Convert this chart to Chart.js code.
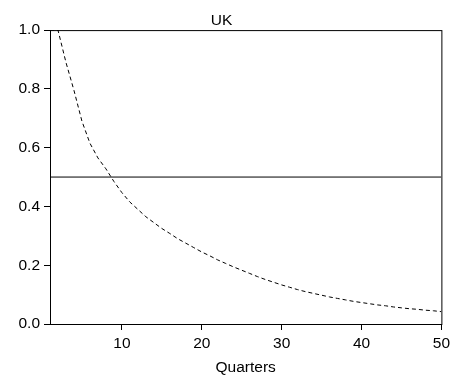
<!DOCTYPE html>
<html>
<head>
<meta charset="utf-8">
<script src="https://cdn.jsdelivr.net/npm/chart.js@4/dist/chart.umd.min.js"></script>
<style>
  html, body { margin: 0; padding: 0; background: #fff; }
  #wrap { width: 454px; height: 385px; }
</style>
</head>
<body>
<div id="wrap"><canvas id="chart" width="454" height="385"></canvas></div>
<script>
// Response profile for the UK, quarters 1..50
const quarters = [];
for (let q = 1; q <= 50; q++) quarters.push(q);

const response = [
  1.000, 1.000, 0.890, 0.795, 0.690, 0.615, 0.565, 0.528, 0.485, 0.447,
  0.415, 0.390, 0.365, 0.345, 0.325, 0.308, 0.290, 0.275, 0.260, 0.245,
  0.232, 0.218, 0.206, 0.194, 0.183, 0.172, 0.161, 0.151, 0.142, 0.133,
  0.125, 0.117, 0.110, 0.104, 0.098, 0.092, 0.087, 0.082, 0.077, 0.073,
  0.069, 0.065, 0.062, 0.058, 0.055, 0.052, 0.050, 0.047, 0.045, 0.042
];

const halfLine = 0.5;
const xTicks = [10, 20, 30, 40, 50];
const yTicks = [0.0, 0.2, 0.4, 0.6, 0.8, 1.0];

const FONT = { family: 'Liberation Sans, Arial, sans-serif', size: 15.5 };

// draw the full box around the plot area
const frame = {
  id: 'frame',
  afterDatasetsDraw(chart) {
    const { ctx, chartArea: a } = chart;
    ctx.save();
    ctx.strokeStyle = '#000';
    ctx.lineWidth = 1;
    ctx.strokeRect(a.left + 0.5, a.top + 0.5, a.right - a.left, a.bottom - a.top);
    ctx.restore();
  }
};

new Chart(document.getElementById('chart').getContext('2d'), {
  type: 'line',
  data: {
    datasets: [
      {
        data: quarters.map((q, i) => ({ x: q, y: response[i] })),
        borderColor: '#000',
        borderWidth: 1,
        borderDash: [4, 3],
        pointRadius: 0,
        tension: 0,
      },
      {
        data: [{ x: quarters[0], y: halfLine }, { x: quarters[quarters.length - 1], y: halfLine }],
        borderColor: '#000',
        borderWidth: 1,
        pointRadius: 0,
      },
    ],
  },
  options: {
    responsive: false,
    animation: false,
    layout: { padding: { left: 0, right: 11, top: 0, bottom: 0 } },
    plugins: {
      legend: { display: false },
      tooltip: { enabled: false },
      title: {
        display: true,
        text: 'UK',
        color: '#000',
        font: { ...FONT, weight: 'normal' },
        padding: { top: 11.5, bottom: 0 },
      },
    },
    scales: {
      x: {
        type: 'linear',
        min: 1,
        max: 50,
        afterBuildTicks: (s) => { s.ticks = xTicks.map((v) => ({ value: v })); },
        afterFit: (s) => { s.height = 61; },
        ticks: { color: '#000', font: FONT, padding: 4 },
        grid: { drawOnChartArea: false, drawTicks: true, tickLength: 6, color: '#000' },
        border: { display: true, color: '#000' },
        title: { display: true, text: 'Quarters', color: '#000', font: FONT, padding: { top: 0, bottom: 8 } },
      },
      y: {
        min: 0,
        max: 1,
        afterBuildTicks: (s) => { s.ticks = yTicks.map((v) => ({ value: v })); },
        afterFit: (s) => { s.width = 50; },
        ticks: { color: '#000', font: FONT, padding: 4, callback: (v) => v.toFixed(1) },
        grid: { drawOnChartArea: false, drawTicks: true, tickLength: 6, color: '#000' },
        border: { display: true, color: '#000' },
      },
    },
  },
  plugins: [frame],
});
</script>
</body>
</html>
